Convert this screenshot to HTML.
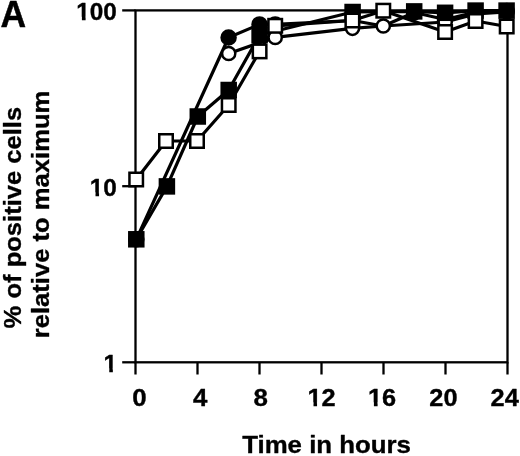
<!DOCTYPE html>
<html><head><meta charset="utf-8"><title>Figure A</title>
<style>html,body{margin:0;padding:0;background:#fff}svg{display:block}</style></head>
<body><svg width="520" height="456" viewBox="0 0 520 456">
<rect width="520" height="456" fill="#fff"/>
<g stroke="#000" stroke-width="2.3" fill="none" stroke-linecap="butt">
<rect x="135.5" y="10.4" width="372" height="351.9"/>
<line x1="122.2" y1="10.4" x2="135.5" y2="10.4"/>
<line x1="122.2" y1="186.2" x2="135.5" y2="186.2"/>
<line x1="122.2" y1="362.3" x2="135.5" y2="362.3"/>
<line x1="135.5" y1="362.3" x2="135.5" y2="374.5"/>
<line x1="197.5" y1="362.3" x2="197.5" y2="374.5"/>
<line x1="259.5" y1="362.3" x2="259.5" y2="374.5"/>
<line x1="321.5" y1="362.3" x2="321.5" y2="374.5"/>
<line x1="383.5" y1="362.3" x2="383.5" y2="374.5"/>
<line x1="445.5" y1="362.3" x2="445.5" y2="374.5"/>
<line x1="507.5" y1="362.3" x2="507.5" y2="374.5"/>
</g>
<polyline fill="none" stroke="#000" stroke-width="3.2" stroke-linejoin="round" points="136.3,239.3 228.6,37.5 259.5,24.4 275.2,24.4 352.5,20.5 383.4,26.0 414.2,12.5 445.2,19.5 475.8,12.0 506.8,11.0"/>
<polyline fill="none" stroke="#000" stroke-width="3.2" stroke-linejoin="round" points="228.7,53.5 275.2,37.4 352.5,28.3 383.3,26.0 445.2,22.0 475.8,14.0 506.8,12.0"/>
<polyline fill="none" stroke="#000" stroke-width="3.2" stroke-linejoin="round" points="136.3,239.3 166.9,186.4 197.8,116.5 228.7,90.0 259.6,35.0 352.6,12.0 414.2,11.4 445.1,12.8 475.6,10.6 506.6,10.6"/>
<polyline fill="none" stroke="#000" stroke-width="3.2" stroke-linejoin="round" points="136.2,179.5 166.0,141.0 197.0,141.0 228.7,105.0 259.6,51.4 275.2,25.8 352.4,20.5 383.3,10.7 445.1,32.0 475.6,21.0 506.7,26.5"/>
<circle cx="136.3" cy="239.3" r="7.00" fill="#000" stroke="#000" stroke-width="2.5"/>
<circle cx="228.6" cy="37.5" r="7.00" fill="#000" stroke="#000" stroke-width="2.5"/>
<circle cx="259.5" cy="24.4" r="7.00" fill="#000" stroke="#000" stroke-width="2.5"/>
<circle cx="275.2" cy="24.4" r="7.00" fill="#000" stroke="#000" stroke-width="2.5"/>
<circle cx="414.2" cy="12.5" r="7.00" fill="#000" stroke="#000" stroke-width="2.5"/>
<circle cx="475.8" cy="12.0" r="7.00" fill="#000" stroke="#000" stroke-width="2.5"/>
<circle cx="506.8" cy="11.0" r="7.00" fill="#000" stroke="#000" stroke-width="2.5"/>
<circle cx="228.7" cy="53.5" r="6.60" fill="#fff" stroke="#000" stroke-width="2.5"/>
<circle cx="275.2" cy="37.4" r="6.60" fill="#fff" stroke="#000" stroke-width="2.5"/>
<circle cx="352.5" cy="28.3" r="6.60" fill="#fff" stroke="#000" stroke-width="2.5"/>
<circle cx="383.3" cy="26.0" r="6.60" fill="#fff" stroke="#000" stroke-width="2.5"/>
<circle cx="445.2" cy="22.0" r="6.60" fill="#fff" stroke="#000" stroke-width="2.5"/>
<circle cx="475.8" cy="14.0" r="6.60" fill="#fff" stroke="#000" stroke-width="2.5"/>
<circle cx="506.8" cy="12.0" r="6.60" fill="#fff" stroke="#000" stroke-width="2.5"/>
<rect x="129.30" y="232.30" width="14.00" height="14.00" fill="#000" stroke="#000" stroke-width="2.5"/>
<rect x="159.90" y="179.40" width="14.00" height="14.00" fill="#000" stroke="#000" stroke-width="2.5"/>
<rect x="190.80" y="109.50" width="14.00" height="14.00" fill="#000" stroke="#000" stroke-width="2.5"/>
<rect x="221.70" y="83.00" width="14.00" height="14.00" fill="#000" stroke="#000" stroke-width="2.5"/>
<rect x="252.60" y="28.00" width="14.00" height="14.00" fill="#000" stroke="#000" stroke-width="2.5"/>
<rect x="345.60" y="5.00" width="14.00" height="14.00" fill="#000" stroke="#000" stroke-width="2.5"/>
<rect x="407.20" y="4.40" width="14.00" height="14.00" fill="#000" stroke="#000" stroke-width="2.5"/>
<rect x="438.10" y="5.80" width="14.00" height="14.00" fill="#000" stroke="#000" stroke-width="2.5"/>
<rect x="468.60" y="3.60" width="14.00" height="14.00" fill="#000" stroke="#000" stroke-width="2.5"/>
<rect x="499.60" y="3.60" width="14.00" height="14.00" fill="#000" stroke="#000" stroke-width="2.5"/>
<rect x="129.45" y="172.75" width="13.50" height="13.50" fill="#fff" stroke="#000" stroke-width="2.5"/>
<rect x="159.25" y="134.25" width="13.50" height="13.50" fill="#fff" stroke="#000" stroke-width="2.5"/>
<rect x="190.25" y="134.25" width="13.50" height="13.50" fill="#fff" stroke="#000" stroke-width="2.5"/>
<rect x="221.95" y="98.25" width="13.50" height="13.50" fill="#fff" stroke="#000" stroke-width="2.5"/>
<rect x="252.85" y="44.65" width="13.50" height="13.50" fill="#fff" stroke="#000" stroke-width="2.5"/>
<rect x="268.45" y="19.05" width="13.50" height="13.50" fill="#fff" stroke="#000" stroke-width="2.5"/>
<rect x="345.65" y="13.75" width="13.50" height="13.50" fill="#fff" stroke="#000" stroke-width="2.5"/>
<rect x="376.55" y="3.95" width="13.50" height="13.50" fill="#fff" stroke="#000" stroke-width="2.5"/>
<rect x="438.35" y="25.25" width="13.50" height="13.50" fill="#fff" stroke="#000" stroke-width="2.5"/>
<rect x="468.85" y="14.25" width="13.50" height="13.50" fill="#fff" stroke="#000" stroke-width="2.5"/>
<rect x="499.95" y="19.75" width="13.50" height="13.50" fill="#fff" stroke="#000" stroke-width="2.5"/>
<g font-family="'Liberation Sans', Arial, Helvetica, sans-serif" font-weight="bold" fill="#000" stroke="#000" stroke-width="0.35" stroke-linejoin="round">
<text x="0.5" y="27.1" font-size="37.3" textLength="25.6" lengthAdjust="spacingAndGlyphs" text-anchor="start" stroke="#000" stroke-width="0.5">A</text>
<text x="76.3" y="20.4" font-size="24.5" textLength="40.6" lengthAdjust="spacingAndGlyphs" text-anchor="start" >100</text>
<text x="89.8" y="196" font-size="24.5" textLength="27.1" lengthAdjust="spacingAndGlyphs" text-anchor="start" >10</text>
<text x="103.6" y="372" font-size="24.5" textLength="13.55" lengthAdjust="spacingAndGlyphs" text-anchor="start" >1</text>
<text x="139.5" y="406" font-size="24.5" textLength="14.4" lengthAdjust="spacingAndGlyphs" text-anchor="middle" >0</text>
<text x="200.2" y="406" font-size="24.5" textLength="14.4" lengthAdjust="spacingAndGlyphs" text-anchor="middle" >4</text>
<text x="260.6" y="406" font-size="24.5" textLength="14.4" lengthAdjust="spacingAndGlyphs" text-anchor="middle" >8</text>
<text x="321.5" y="406" font-size="24.5" textLength="28.2" lengthAdjust="spacingAndGlyphs" text-anchor="middle" >12</text>
<text x="382" y="406" font-size="24.5" textLength="28.2" lengthAdjust="spacingAndGlyphs" text-anchor="middle" >16</text>
<text x="443.4" y="406" font-size="24.5" textLength="28.2" lengthAdjust="spacingAndGlyphs" text-anchor="middle" >20</text>
<text x="504.7" y="406" font-size="24.5" textLength="28.2" lengthAdjust="spacingAndGlyphs" text-anchor="middle" >24</text>
<text x="242.2" y="453.2" font-size="24.5" textLength="168.8" lengthAdjust="spacingAndGlyphs" text-anchor="start" >Time in hours</text>
<text transform="translate(21.3,328.4) rotate(-90)" font-size="24.5" textLength="221.5" lengthAdjust="spacingAndGlyphs">% of positive cells</text>
<text transform="translate(49.3,338.2) rotate(-90)" font-size="24.5" textLength="247.5" lengthAdjust="spacingAndGlyphs">relative to maximum</text>
</g>
<rect x="77" y="16.8" width="4.9" height="4.2" fill="#fff"/>
<rect x="85.6" y="16.8" width="4.4" height="4.2" fill="#fff"/>
<rect x="90" y="192.4" width="5.5" height="4.6" fill="#fff"/>
<rect x="99.05" y="192.4" width="4.45" height="4.6" fill="#fff"/>
<rect x="103.5" y="368.4" width="5.75" height="4.6" fill="#fff"/>
<rect x="112.85" y="368.4" width="5.15" height="4.6" fill="#fff"/>
<rect x="308" y="402.4" width="5.5" height="4.6" fill="#fff"/>
<rect x="317.05" y="402.4" width="4.55" height="4.6" fill="#fff"/>
<rect x="368.5" y="402.4" width="5.4" height="4.6" fill="#fff"/>
<rect x="377.6" y="402.4" width="4.4" height="4.6" fill="#fff"/>
</svg></body></html>
